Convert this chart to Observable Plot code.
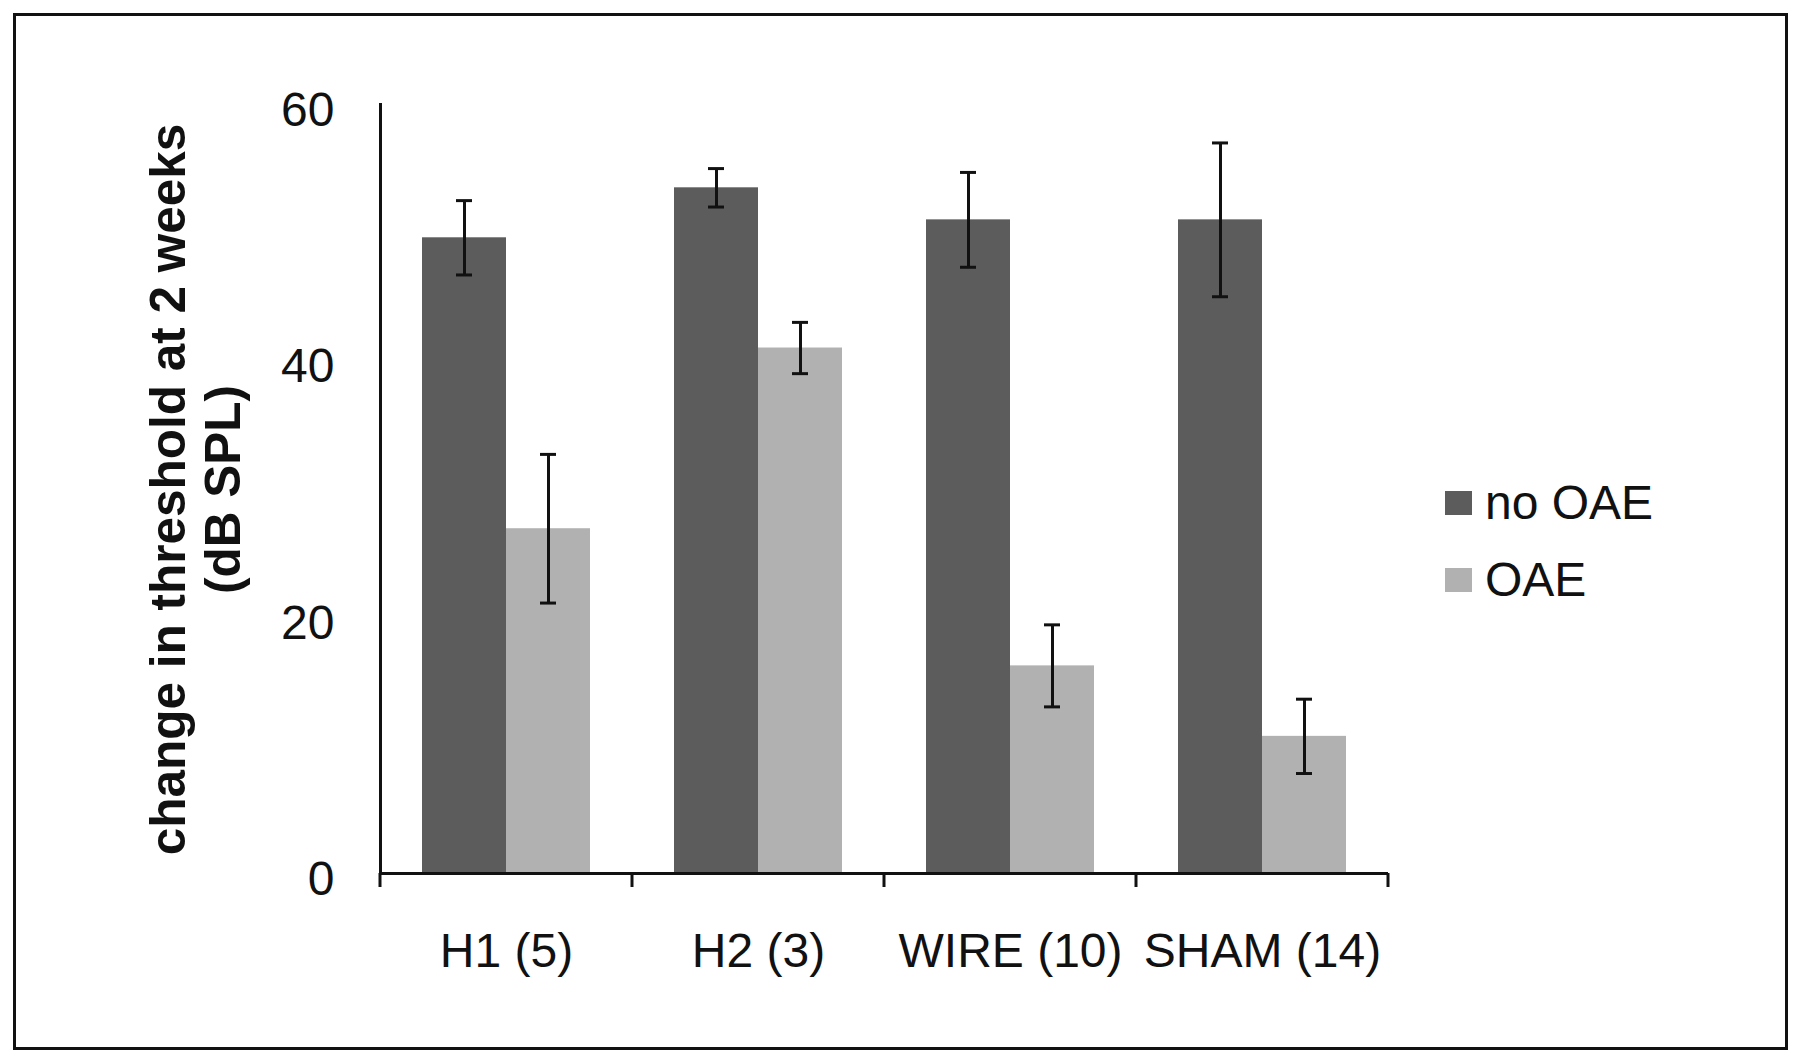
<!DOCTYPE html>
<html>
<head>
<meta charset="utf-8">
<script src="https://cdn.jsdelivr.net/npm/d3@7"></script>
<script src="https://cdn.jsdelivr.net/npm/@observablehq/plot@0.6"></script>
<style>
  body { margin: 0; background: #fff; }
  #wrap { position: relative; width: 1800px; height: 1062px; font-family: "Liberation Sans", Arial, sans-serif; background: #fff; }
  #border { position: absolute; left: 13px; top: 13px; width: 1775px; height: 1037px; border: 3px solid #111; box-sizing: border-box; }
  #chart { position: absolute; left: 0; top: 0; }
  #legend { position: absolute; left: 1445px; top: 464px; font-size: 48px; color: #111; }
  .item { display: flex; align-items: center; height: 77px; }
  .sw { width: 27px; height: 24px; margin-right: 13px; }
</style>
</head>
<body>
<div id="wrap">
  <div id="border"></div>
  <div id="chart"></div>
  <div id="legend"></div>
</div>
<script>
// ---- data ----
const categories = ["H1 (5)", "H2 (3)", "WIRE (10)", "SHAM (14)"];
const series = ["no OAE", "OAE"];
const noOAEMean = [49.6, 53.5, 51.0, 51.0];
const noOAEErr  = [2.9, 1.5, 3.7, 6.0];
const oaeMean   = [26.9, 41.0, 16.2, 10.7];
const oaeErr    = [5.8, 2.0, 3.2, 2.9];
const yTicks = [0, 20, 40, 60];
const yTitle = ["change in threshold at 2 weeks", "(dB SPL)"];
const seriesColors = ["#5c5c5c", "#b1b1b1"];

const rows = categories.flatMap((c, i) => [
  {group: c, series: series[0], value: noOAEMean[i], err: noOAEErr[i]},
  {group: c, series: series[1], value: oaeMean[i], err: oaeErr[i]}
]);

const ink = "#111";
const plot = Plot.plot({
  width: 1800,
  height: 1062,
  marginLeft: 379,
  marginRight: 412,
  marginTop: 104,
  marginBottom: 189,
  style: {fontFamily: "'Liberation Sans', Arial, sans-serif", fontSize: "48px", color: ink, background: "transparent"},
  fx: {domain: categories, padding: 0, label: null},
  x: {domain: series, paddingInner: 0, paddingOuter: 0.5, axis: null},
  y: {domain: [0, 60], axis: null},
  color: {domain: series, range: seriesColors},
  marks: [
    Plot.barY(rows, {fx: "group", x: "series", y: "value", fill: "series"}),
    Plot.ruleX(rows, {fx: "group", x: "series", y1: d => d.value - d.err, y2: d => d.value + d.err, stroke: ink, strokeWidth: 3}),
    Plot.tickY(rows, {fx: "group", x: "series", y: d => d.value - d.err, stroke: ink, strokeWidth: 3, insetLeft: 34, insetRight: 34}),
    Plot.tickY(rows, {fx: "group", x: "series", y: d => d.value + d.err, stroke: ink, strokeWidth: 3, insetLeft: 34, insetRight: 34}),
    Plot.ruleY([0], {stroke: ink, strokeWidth: 3}),
    Plot.frame({anchor: "left", facetAnchor: "left", stroke: ink, strokeWidth: 3}),
    Plot.axisY({ticks: yTicks, tickSize: 0, tickPadding: 46, label: null, dy: 6}),
    Plot.axisFx({anchor: "bottom", tickSize: 0, tickPadding: 59, label: null})
  ]
});

// category boundary ticks on the x axis, from the fx scale
const fx = plot.scale("fx");
const yScale = plot.scale("y");
const y0 = yScale.apply(0);
const bounds = fx.domain.map(d => fx.apply(d));
bounds.push(fx.apply(fx.domain[fx.domain.length - 1]) + fx.step);
const svg = d3.select(plot);
svg.append("g")
  .selectAll("line")
  .data(bounds)
  .join("line")
  .attr("x1", d => d).attr("x2", d => d)
  .attr("y1", y0).attr("y2", y0 + 14)
  .attr("stroke", ink).attr("stroke-width", 3);

// y-axis title (two lines, rotated)
const yMid = (yScale.apply(0) + yScale.apply(60)) / 2;
const t = svg.append("text")
  .attr("transform", `translate(0,${yMid + 1}) rotate(-90)`)
  .attr("text-anchor", "middle")
  .attr("font-weight", "bold")
  .attr("font-size", 49.5)
  .attr("fill", ink);
t.append("tspan").attr("x", 0).attr("y", 185).text(yTitle[0]);
t.append("tspan").attr("x", 0).attr("y", 240).text(yTitle[1]);

document.getElementById("chart").appendChild(plot);

// legend built from the color scale
const color = plot.scale("color");
const legend = d3.select("#legend");
series.forEach(s => {
  const item = legend.append("div").attr("class", "item");
  item.append("div").attr("class", "sw").style("background", color.apply(s));
  item.append("span").text(s);
});
</script>
</body>
</html>
